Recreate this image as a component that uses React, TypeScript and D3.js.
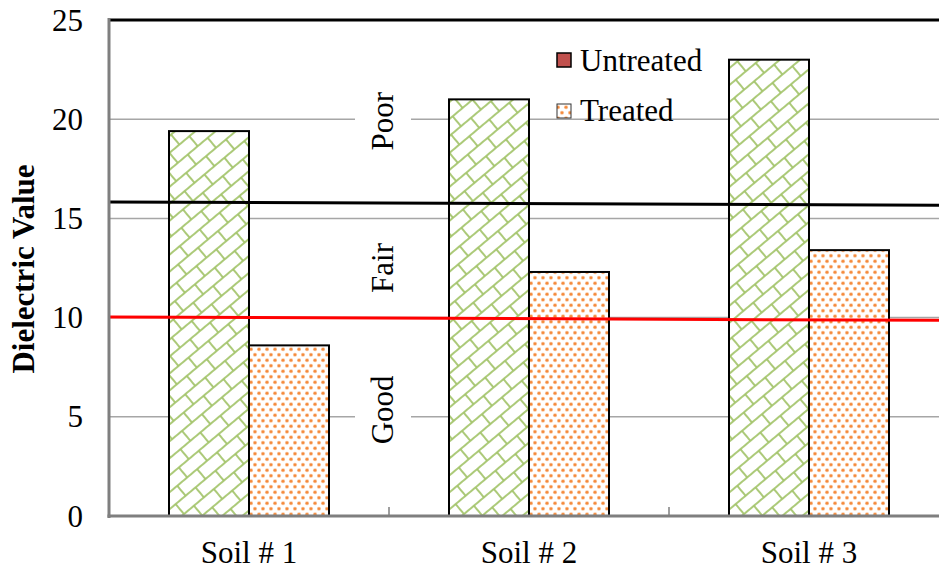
import React from "react";
import * as d3 from "d3";

const categories = ["Soil # 1", "Soil # 2", "Soil # 3"];
const seriesNames = ["Untreated", "Treated"];
const untreatedValues = [19.4, 21.0, 23.0];
const treatedValues = [8.6, 12.3, 13.4];
const yTicks = [0, 5, 10, 15, 20, 25];
const gridValues = [5, 10, 15, 20];
// threshold lines: value at left end and right end of the category axis
const thresholdNames = ["upper", "poorFair", "fairGood"];
const thresholdStart = [25, 15.83, 10.03];
const thresholdEnd = [25, 15.66, 9.86];
const thresholdColors = ["#000000", "#000000", "#FF0000"];
const zoneLabels = ["Poor", "Fair", "Good"];
const zoneLabelValues = [19.9, 12.5, 5.35];
const zoneLabelCategoryPos = 0.975; // position in category units

const W = 939;
const H = 569;
const left = 109;
const right = 949;
const top = 20;
const bottom = 516;
const FONT = "Liberation Serif";
const fs = 31;

const txt: React.CSSProperties = { fontFamily: FONT };

export default function App() {
  const x0 = d3.scaleBand<string>().domain(categories).range([left, right]).padding(0);
  const x1 = d3
    .scaleBand<string>()
    .domain(seriesNames)
    .range([0, x0.bandwidth()])
    .paddingInner(0)
    .paddingOuter(0.75);
  const xc = d3.scaleLinear().domain([0, categories.length]).range([left, right]);
  const y = d3.scaleLinear().domain([0, 25]).range([bottom, top]);

  const valuesBySeries = [untreatedValues, treatedValues];
  const fills = ["url(#brick)", "url(#dots)"];

  const lineGen = d3
    .line<[number, number]>()
    .x((d) => xc(d[0]))
    .y((d) => y(d[1]));

  return (
    <svg
      width={W}
      height={H}
      style={{ position: "absolute", left: 0, top: 0, background: "#fff" }}
    >
      <defs>
        <pattern
          id="brick"
          patternUnits="userSpaceOnUse"
          width={26}
          height={26}
          patternTransform="rotate(-40)"
        >
          <rect width={26} height={26} fill="#fff" />
          <g stroke="#A3C46A" strokeWidth={1.8}>
            <line x1={0} y1={0} x2={26} y2={0} />
            <line x1={0} y1={13} x2={26} y2={13} />
            <line x1={0} y1={26} x2={26} y2={26} />
            <line x1={0} y1={0} x2={0} y2={13} />
            <line x1={26} y1={0} x2={26} y2={13} />
            <line x1={13} y1={13} x2={13} y2={26} />
          </g>
        </pattern>
        <pattern id="dots" patternUnits="userSpaceOnUse" width={8} height={11}>
          <rect width={8} height={11} fill="#fff" />
          <circle cx={2} cy={2.75} r={2.1} fill="#FAC8A0" />
          <circle cx={6} cy={8.25} r={2.1} fill="#FAC8A0" />
          <circle cx={2} cy={2.75} r={1.3} fill="#F58A3C" />
          <circle cx={6} cy={8.25} r={1.3} fill="#F58A3C" />
        </pattern>
      </defs>

      {/* gridlines */}
      {gridValues.map((v) => (
        <line
          key={"g" + v}
          x1={left}
          x2={right}
          y1={y(v)}
          y2={y(v)}
          stroke="#A6A6A6"
          strokeWidth={1.5}
        />
      ))}

      {/* zone label boxes and labels */}
      {zoneLabels.map((lab, i) => {
        const cx = xc(zoneLabelCategoryPos);
        const cy = y(zoneLabelValues[i]);
        const len = lab.length * fs * 0.5 + 10;
        return (
          <g key={lab}>
            <rect x={cx - 27} y={cy - len / 2} width={56} height={len} fill="#fff" />
            <text
              transform={`translate(${cx + 11},${cy}) rotate(-90)`}
              textAnchor="middle"
              fontSize={fs}
              fill="#000"
              style={txt}
            >
              {lab}
            </text>
          </g>
        );
      })}

      {/* bars */}
      {categories.map((c, ci) => (
        <g key={c} transform={`translate(${x0(c)},0)`}>
          {seriesNames.map((s, si) => {
            const v = valuesBySeries[si][ci];
            return (
              <rect
                key={s}
                x={x1(s)}
                y={y(v)}
                width={x1.bandwidth()}
                height={y(0) - y(v)}
                fill={fills[si]}
                stroke="#000"
                strokeWidth={2}
              />
            );
          })}
        </g>
      ))}

      {/* threshold lines */}
      {thresholdNames.map((n, i) => (
        <path
          key={n}
          d={lineGen([
            [0, thresholdStart[i]],
            [categories.length, thresholdEnd[i]],
          ]) || ""}
          stroke={thresholdColors[i]}
          strokeWidth={3}
          fill="none"
        />
      ))}

      {/* axes */}
      <line x1={left} x2={left} y1={top - 2} y2={bottom + 2} stroke="#7F7F7F" strokeWidth={3} />
      <line x1={left - 1.5} x2={right} y1={bottom} y2={bottom} stroke="#7F7F7F" strokeWidth={3} />
      {categories.map((c, i) =>
        i === 0 ? null : (
          <line
            key={"t" + c}
            x1={x0(c)}
            x2={x0(c)}
            y1={bottom}
            y2={bottom - 9}
            stroke="#7F7F7F"
            strokeWidth={1.5}
          />
        )
      )}

      {/* y tick labels */}
      {yTicks.map((t) => (
        <text
          key={"yt" + t}
          x={left - 26}
          y={y(t)}
          dy="0.34em"
          textAnchor="end"
          fontSize={fs}
          fill="#000"
          style={txt}
        >
          {t}
        </text>
      ))}

      {/* x labels */}
      {categories.map((c) => (
        <text
          key={"xl" + c}
          x={(x0(c) || 0) + x0.bandwidth() / 2}
          y={563}
          textAnchor="middle"
          fontSize={fs}
          fill="#000"
          style={txt}
        >
          {c}
        </text>
      ))}

      {/* y axis title */}
      <text
        transform={`translate(34,${(top + bottom) / 2 + 1}) rotate(-90)`}
        textAnchor="middle"
        fontSize={31}
        fontWeight="bold"
        fill="#000"
        style={txt}
      >
        Dielectric Value
      </text>

      {/* legend */}
      <g>
        <rect x={557} y={53} width={14} height={14} fill="#C0504D" stroke="#000" strokeWidth={1.5} />
        <text x={580} y={71} fontSize={fs} fill="#000" style={txt}>
          {seriesNames[0]}
        </text>
        <rect x={557} y={104} width={14} height={14} fill="url(#dots)" stroke="#333" strokeWidth={1} />
        <text x={580} y={121} fontSize={fs} fill="#000" style={txt}>
          {seriesNames[1]}
        </text>
      </g>
    </svg>
  );
}
